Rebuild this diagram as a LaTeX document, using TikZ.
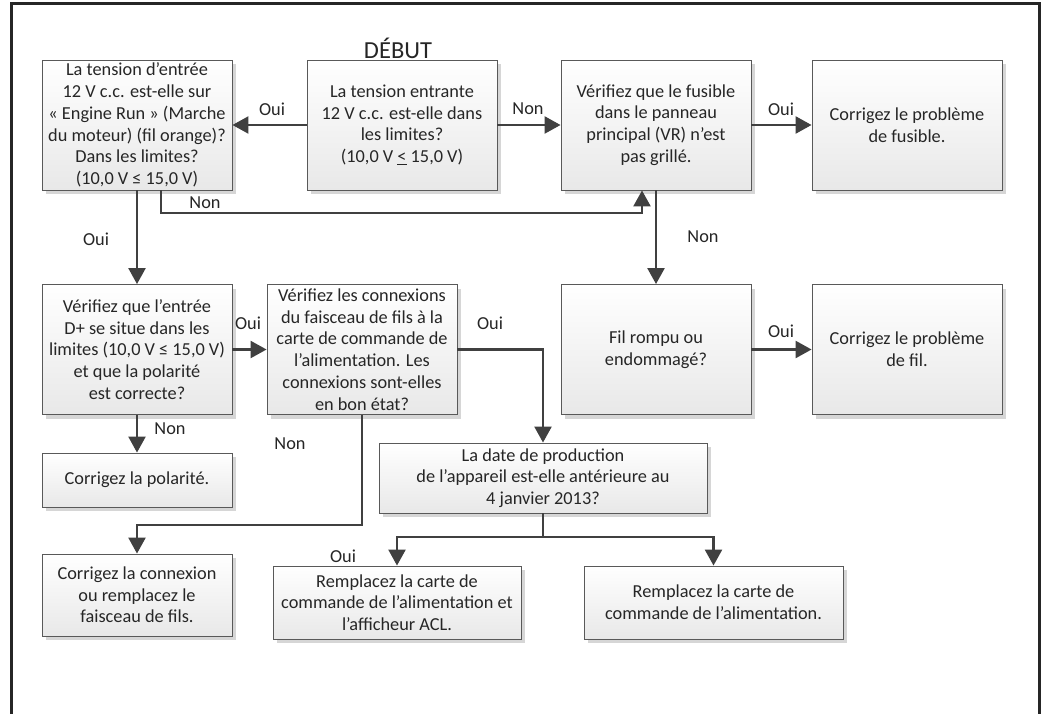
\documentclass[tikz,border=0pt]{standalone}
\usepackage{fontspec}
\setmainfont{Carlito}
\usetikzlibrary{arrows.meta,shadows}
\begin{document}
\begin{tikzpicture}[x=1pt,y=-1pt]
\tikzset{
 box/.style={draw=black!65, line width=0.9pt, top color=white, bottom color=black!9,
   drop shadow={shadow xshift=4pt, shadow yshift=-4pt, fill=black!16, opacity=1},
   align=center, inner sep=0pt, font=\fontsize{18.3}{21.7}\selectfont, text=black!85},
 conn/.style={draw=black!75, line width=2.4pt, -{Triangle[length=16pt,width=17pt]}},
 lbl/.style={font=\fontsize{18.3}{20}\selectfont, text=black!85, inner sep=0pt},
}
\fill[white] (0,0) rectangle (1046,714);
\useasboundingbox (0,0) rectangle (1046,714);
\draw[line width=2.5pt, draw=black!85] (11.5,730) -- (11.5,3.5) -- (1039.5,3.5) -- (1039.5,730);

\node[font=\fontsize{24.5}{28}\selectfont, text=black!85] (debut) at (398,48) {DÉBUT};

\node[box, minimum width=190pt, minimum height=130pt] (b1) at (137,125) {La tension d’entrée\\12 V c.c. est-elle sur\\« Engine Run » (Marche\\du moteur) (fil orange)?\\Dans les limites?\\(10,0 V ≤ 15,0 V)};
\node[box, minimum width=190pt, minimum height=130pt] (b2) at (402,125) {La tension entrante\\12 V c.c. est-elle dans\\les limites?\\(10,0 V \underline{<} 15,0 V)};
\node[box, minimum width=190pt, minimum height=130pt] (b3) at (656,125) {Vérifiez que le fusible\\dans le panneau\\principal (VR) n’est\\pas grillé.};
\node[box, minimum width=190pt, minimum height=130pt] (b4) at (907,125) {Corrigez le problème\\de fusible.};

\node[box, minimum width=190pt, minimum height=130pt] (b5) at (137,349.5) {Vérifiez que l’entrée\\D+ se situe dans les\\limites (10,0 V ≤ 15,0 V)\\et que la polarité\\est correcte?};
\node[box, minimum width=190pt, minimum height=130pt] (b6) at (362,349.5) {Vérifiez les connexions\\du faisceau de fils à la\\carte de commande de\\l'alimentation. Les\\connexions sont-elles\\en bon état?};
\node[box, minimum width=190pt, minimum height=130pt] (b7) at (656,349.5) {Fil rompu ou\\endommagé?};
\node[box, minimum width=190pt, minimum height=130pt] (b8) at (907,349.5) {Corrigez le problème\\de fil.};

\node[box, minimum width=190pt, minimum height=54pt] (b9) at (137,480) {Corrigez la polarité.};
\node[box, minimum width=328pt, minimum height=70pt] (b10) at (543,478) {La date de production\\de l’appareil est-elle antérieure au\\4 janvier 2013?};
\node[box, minimum width=190pt, minimum height=82pt] (b11) at (137,595) {Corrigez la connexion\\ou remplacez le\\faisceau de fils.};
\node[box, minimum width=248pt, minimum height=73pt] (b12) at (397,602.5) {Remplacez la carte de\\commande de l’alimentation et\\l’afficheur ACL.};
\node[box, minimum width=259pt, minimum height=73pt] (b13) at (713.5,602.5) {Remplacez la carte de\\commande de l’alimentation.};

\coordinate (n1) at (400,213);
\coordinate (j1) at (250,525);
\coordinate (j2) at (543,537);

\draw[conn] (b2.west) -- (b1.east);
\draw[conn] (b2.east) -- (b3.west);
\draw[conn] (b3.east) -- (b4.west);
\draw[conn] (b1.south) -- (b5.north);
\draw[conn] ([xshift=24pt]b1.south) |- (n1) -| ([xshift=-14pt]b3.south);
\draw[conn] (b3.south) -- (b7.north);
\draw[conn] (b5.east) -- (b6.west);
\draw[conn] (b6.east) -| (b10.north);
\draw[conn] (b7.east) -- (b8.west);
\draw[conn] (b5.south) -- (b9.north);
\draw[conn] (b6.south) |- (j1) -| (b11.north);
\draw[conn] (b10.south) |- (j2) -| (b12.north);
\draw[conn] (j2) -| (b13.north);

\node[lbl] (l1) at (272,109) {Oui};
\node[lbl] (l2) at (528,109) {Non};
\node[lbl] (l3) at (781,109) {Oui};
\node[lbl] (l4) at (96,239) {Oui};
\node[lbl] (l5) at (205,203) {Non};
\node[lbl] (l6) at (703,237) {Non};
\node[lbl] (l7) at (248,323) {Oui};
\node[lbl] (l8) at (490,323) {Oui};
\node[lbl] (l9) at (781,331) {Oui};
\node[lbl] (l10) at (170,429) {Non};
\node[lbl] (l11) at (290,444) {Non};
\node[lbl] (l12) at (343,556) {Oui};
\end{tikzpicture}
\end{document}
